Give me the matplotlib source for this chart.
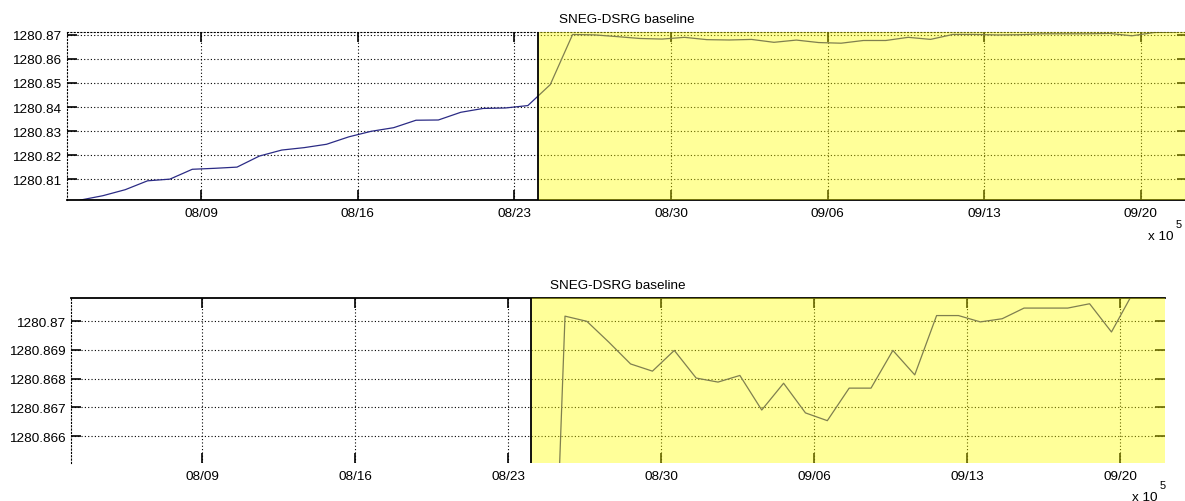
import matplotlib
matplotlib.use("Agg")
import numpy as np
import pandas as pd
import matplotlib.pyplot as plt
import matplotlib.dates as mdates

plt.rcParams["font.family"] = ["Liberation Sans", "DejaVu Sans"]

# daily baseline solutions (m), first epoch 2010-08-03 14:24
start = "2010-08-03 14:24"
baseline = [1280.8013, 1280.8031, 1280.8056, 1280.8093, 1280.8100, 1280.8141,
            1280.8145, 1280.8150, 1280.8196, 1280.8221, 1280.8231, 1280.8245,
            1280.8276, 1280.8299, 1280.8314, 1280.8345, 1280.8346, 1280.8378,
            1280.8394, 1280.8396, 1280.8406, 1280.8493, 1280.87017, 1280.86999,
            1280.86927, 1280.86851, 1280.86826, 1280.86898, 1280.86802, 1280.86788,
            1280.86811, 1280.86691, 1280.86784, 1280.86681, 1280.86654, 1280.86767,
            1280.86767, 1280.86898, 1280.86813, 1280.87019, 1280.87019, 1280.86997,
            1280.87008, 1280.87045, 1280.87045, 1280.87045, 1280.87060, 1280.86962,
            1280.87100, 1280.87120]

x_dates = ["2010-08-09", "2010-08-16", "2010-08-23", "2010-08-30",
           "2010-09-06", "2010-09-13", "2010-09-20"]
x_labels = ["08/09", "08/16", "08/23", "08/30", "09/06", "09/13", "09/20"]

top_yticks = [1280.81, 1280.82, 1280.83, 1280.84, 1280.85, 1280.86, 1280.87]
top_ylabels = ["1280.81", "1280.82", "1280.83", "1280.84", "1280.85", "1280.86", "1280.87"]
bot_yticks = [1280.866, 1280.867, 1280.868, 1280.869, 1280.87]
bot_ylabels = ["1280.866", "1280.867", "1280.868", "1280.869", "1280.87"]

highlight_start = "2010-08-24 01:12"
xlim = ("2010-08-03 00:00", "2010-09-22 01:30")

title = "SNEG-DSRG baseline"

times = mdates.date2num(pd.date_range(start, periods=len(baseline), freq="D").to_pydatetime())
xt = mdates.date2num(pd.to_datetime(x_dates).to_pydatetime())
x0, x1 = mdates.date2num(pd.to_datetime(list(xlim)).to_pydatetime())
hs = mdates.date2num(pd.Timestamp(highlight_start).to_pydatetime())

W, H = 1185, 502
fig = plt.figure(figsize=(W / 100, H / 100), dpi=100)
ax1 = fig.add_axes([67 / W, 1 - 201 / H, (1187 - 67) / W, 168 / H])
ax2 = fig.add_axes([71 / W, 1 - 464 / H, (1165.3 - 71) / W, 165 / H])

FS = 9.7
dots = (0, (1, 2))


def setup(ax, yticks, ylabels, ylim, solid):
    ax.plot(times, baseline, color="#2b2b85", linewidth=0.9, zorder=2)
    ax.axvspan(hs, x1, facecolor="#ffff00", alpha=0.4, edgecolor="none", zorder=3)
    ax.axvline(hs, color="black", linewidth=1.3, zorder=4)
    ax.set_xlim(x0, x1)
    ax.set_ylim(*ylim)
    ax.set_xticks(xt, x_labels)
    ax.set_yticks(yticks, ylabels)
    ax.grid(True, color="black", linestyle=dots, linewidth=0.8)
    ax.tick_params(direction="in", length=7, width=1.2, labelsize=FS,
                   top=True, right=True, pad=4)
    ax.tick_params(axis="x", pad=5)
    for s in ["left", "right", "top", "bottom"]:
        ax.spines[s].set_visible(False)
    ax.spines["left"].set_visible(True)
    ax.spines["left"].set_linestyle(dots)
    ax.spines["left"].set_linewidth(0.8)
    ax.spines[solid].set_visible(True)
    ax.spines[solid].set_linewidth(1.3)
    ax.set_title(title, fontsize=FS, pad=7)


setup(ax1, top_yticks, top_ylabels, (1280.80132, 1280.8712), "bottom")
ax1.spines["top"].set_visible(True)
ax1.spines["top"].set_linestyle(dots)
ax1.spines["top"].set_linewidth(0.8)
setup(ax2, bot_yticks, bot_ylabels, (1280.86507, 1280.8708), "top")

# MATLAB-style exponent labels
fig.text(1174 / W, 1 - 237 / H, "x 10", fontsize=FS, ha="right", va="center")
fig.text(1176 / W, 1 - 225 / H, "5", fontsize=8, ha="left", va="center")
fig.text(1158 / W, 1 - 498 / H, "x 10", fontsize=FS, ha="right", va="center")
fig.text(1160 / W, 1 - 486 / H, "5", fontsize=8, ha="left", va="center")

fig.savefig("out.png", dpi=100, facecolor="white")
